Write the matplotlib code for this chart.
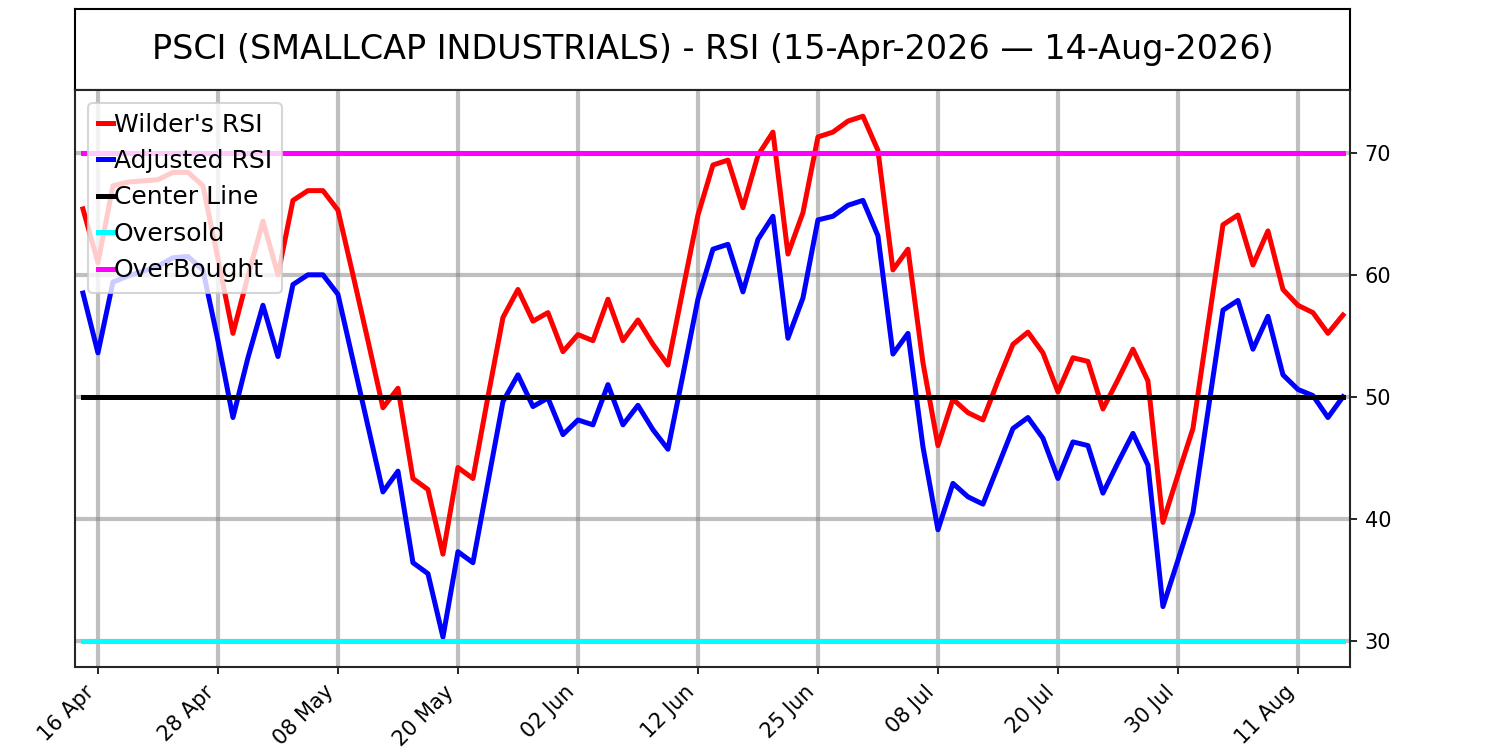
import numpy as np
import matplotlib.pyplot as plt

# RSI values, one per trading day (15-Apr-2026 .. 14-Aug-2026)
wilder_rsi = [65.4, 61.0, 67.3, 67.6, 67.7, 67.8, 68.4, 68.4, 67.3, 61.3,
              55.2, 59.9, 64.4, 60.0, 66.1, 66.9, 66.9, 65.3, 60.0, 54.6,
              49.1, 50.7, 43.3, 42.4, 37.1, 44.2, 43.3, 50.0, 56.5, 58.8,
              56.2, 56.9, 53.7, 55.1, 54.6, 58.0, 54.6, 56.3, 54.3, 52.6,
              58.8, 64.9, 69.0, 69.4, 65.5, 69.8, 71.7, 61.7, 65.1, 71.3,
              71.7, 72.6, 73.0, 70.2, 60.4, 62.1, 52.8, 46.0, 49.8, 48.7,
              48.1, 51.3, 54.3, 55.3, 53.6, 50.4, 53.2, 52.9, 49.0, 51.4,
              53.9, 51.3, 39.7, 43.6, 47.4, 55.8, 64.1, 64.9, 60.8, 63.6,
              58.8, 57.5, 56.9, 55.2, 56.7]

adjusted_rsi = [58.5, 53.6, 59.4, 59.9, 60.3, 60.7, 61.4, 61.5, 60.4, 54.6,
                48.3, 53.2, 57.5, 53.3, 59.2, 60.0, 60.0, 58.4, 53.0, 47.6,
                42.2, 43.9, 36.4, 35.5, 30.3, 37.3, 36.4, 43.0, 49.6, 51.8,
                49.2, 49.9, 46.9, 48.1, 47.7, 51.0, 47.7, 49.3, 47.3, 45.7,
                51.8, 58.0, 62.1, 62.5, 58.6, 62.9, 64.8, 54.8, 58.1, 64.5,
                64.8, 65.7, 66.1, 63.2, 53.5, 55.2, 45.9, 39.1, 42.9, 41.8,
                41.2, 44.3, 47.4, 48.3, 46.6, 43.3, 46.3, 46.0, 42.1, 44.6,
                47.0, 44.4, 32.8, 36.6, 40.5, 48.8, 57.1, 57.9, 53.9, 56.6,
                51.8, 50.6, 50.1, 48.3, 50.0]

tick_labels = ['16 Apr', '28 Apr', '08 May', '20 May', '02 Jun', '12 Jun',
               '25 Jun', '08 Jul', '20 Jul', '30 Jul', '11 Aug']

center_level = 50
oversold_level = 30
overbought_level = 70

title = 'PSCI (SMALLCAP INDUSTRIALS) - RSI (15-Apr-2026 \u2014 14-Aug-2026)'

x = np.arange(len(wilder_rsi))
n = len(x)

fig = plt.figure(figsize=(10, 5), dpi=150)

# title box on top
ax_t = fig.add_axes([0.05, 0.88, 0.85, 0.108])
ax_t.set_xticks([])
ax_t.set_yticks([])
for s in ax_t.spines.values():
    s.set_linewidth(1.0)
ax_t.text(0.5, 0.5, title, ha='center', va='center', fontsize=16,
          transform=ax_t.transAxes)

ax = fig.add_axes([0.05, 0.1107, 0.85, 0.7693])
ax.plot(x, wilder_rsi, color='red', lw=2.4, label="Wilder's RSI")
ax.plot(x, adjusted_rsi, color='blue', lw=2.4, label='Adjusted RSI')
ax.plot(x, [center_level] * n, color='black', lw=2.4, label='Center Line')
ax.plot(x, [oversold_level] * n, color='cyan', lw=2.4, label='Oversold')
ax.plot(x, [overbought_level] * n, color='magenta', lw=2.4, label='OverBought')

ax.set_xlim(-0.53, n - 0.53)
ax.set_xticks(np.arange(1, n, 8))
ax.set_xticklabels(tick_labels, rotation=45, ha='right', fontsize=10)
ax.yaxis.tick_right()
ax.tick_params(axis='y', labelsize=10)
ax.grid(True, color='gray', alpha=0.5, lw=2)
ax.set_axisbelow(True)
for s in ax.spines.values():
    s.set_color('0.15')
    s.set_linewidth(1.0)

ax.legend(loc='upper left', fontsize=12, handlelength=0.6, handletextpad=0.05)

fig.savefig('out.png', dpi=150)
